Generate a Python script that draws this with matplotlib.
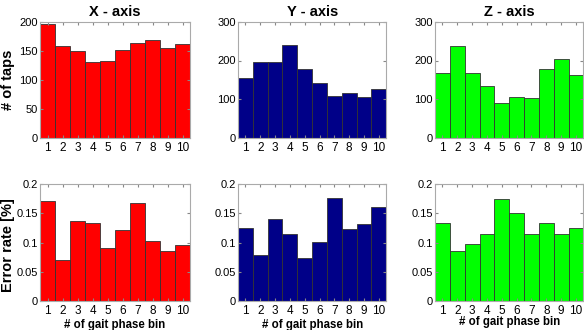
import matplotlib.pyplot as plt

plt.rcParams['font.family'] = ['Liberation Sans', 'DejaVu Sans']

bins = [1, 2, 3, 4, 5, 6, 7, 8, 9, 10]

taps_x = [196, 158, 150, 130, 133, 152, 163, 168, 155, 161]
taps_y = [156, 195, 195, 239, 178, 142, 109, 115, 107, 126]
taps_z = [167, 238, 167, 134, 91, 107, 104, 177, 203, 162]

err_x = [0.171, 0.070, 0.137, 0.133, 0.091, 0.121, 0.167, 0.103, 0.086, 0.095]
err_y = [0.125, 0.078, 0.140, 0.114, 0.074, 0.101, 0.177, 0.123, 0.132, 0.161]
err_z = [0.134, 0.085, 0.097, 0.114, 0.175, 0.151, 0.115, 0.133, 0.115, 0.125]

titles = ['X - axis', 'Y - axis', 'Z - axis']
colors = ['#ff0000', '#000088', '#00ff00']

fig = plt.figure(figsize=(5.84, 3.30), dpi=100)

lefts = [0.0685, 0.4075, 0.745]
widths = [0.257, 0.254, 0.254]

def style(ax):
    ax.set_xlim(0.5, 10.5)
    ax.set_xticks(bins)
    ax.tick_params(direction='in', length=2, color='#888888', top=True, right=True)
    ax.tick_params(axis='x', labelsize=8.5, pad=3)
    ax.tick_params(axis='y', labelsize=8, pad=1.5)
    for s in ax.spines.values():
        s.set_color('#aaaaaa')
        s.set_linewidth(0.8)

# top row: number of taps
for i, vals in enumerate([taps_x, taps_y, taps_z]):
    ax = fig.add_axes([lefts[i], 0.582, widths[i], 0.352])
    ax.bar(bins, vals, width=1.0, color=colors[i], edgecolor='#333333', linewidth=0.6)
    style(ax)
    if i == 0:
        ax.set_ylim(0, 200)
        ax.set_yticks([0, 50, 100, 150, 200])
    else:
        ax.set_ylim(0, 300)
        ax.set_yticks([0, 100, 200, 300])
    ax.set_title(titles[i], fontsize=10.5, fontweight='bold', pad=4)

# bottom row: error rate
for i, vals in enumerate([err_x, err_y, err_z]):
    ax = fig.add_axes([lefts[i], 0.088, widths[i], 0.354])
    ax.bar(bins, vals, width=1.0, color=colors[i], edgecolor='#333333', linewidth=0.6)
    style(ax)
    ax.set_ylim(0, 0.2)
    ax.set_yticks([0, 0.05, 0.1, 0.15, 0.2])
    ax.set_yticklabels(['0', '0.05', '0.1', '0.15', '0.2'])
    pad = -1 if i == 2 else 1
    ax.set_xlabel('# of gait phase bin', fontsize=8.3, fontweight='bold', labelpad=pad)

fig.text(0.014, 0.758, '# of taps', rotation=90, fontsize=10.5, fontweight='bold',
         ha='center', va='center')
fig.text(0.014, 0.258, 'Error rate [%]', rotation=90, fontsize=10.5, fontweight='bold',
         ha='center', va='center')

fig.savefig('out.png', dpi=100)
